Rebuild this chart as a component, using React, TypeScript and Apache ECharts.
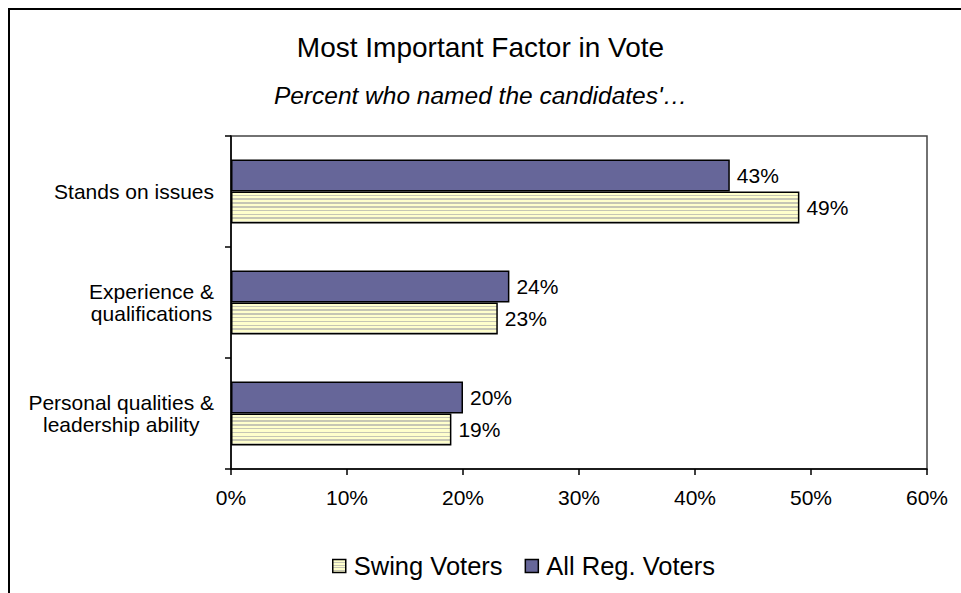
import React, { useEffect, useRef } from "react";
import * as echarts from "echarts";

const categories = ["Stands on issues", "Experience &\nqualifications", "Personal qualities &\nleadership ability"];
const allRegVoters = [43, 24, 20];
const swingVoters = [49, 23, 19];
const xTicks = { min: 0, max: 60, interval: 10 };

const FONT = "'Liberation Sans', Arial, sans-serif";

function stripeFill() {
  const stops: { offset: number; color: string }[] = [];
  const n = 8;
  for (let i = 0; i < n; i++) {
    const a = i / n;
    const b = (i + 0.62) / n;
    const c = (i + 1) / n;
    stops.push({ offset: a, color: "#FFFFCC" });
    stops.push({ offset: b, color: "#FFFFCC" });
    stops.push({ offset: b, color: "#C6C6B4" });
    stops.push({ offset: c, color: "#C6C6B4" });
  }
  return new echarts.graphic.LinearGradient(0, 0, 0, 1, stops);
}

export default function App() {
  const ref = useRef<HTMLDivElement>(null);
  useEffect(() => {
    if (!ref.current) return;
    const chart = echarts.init(ref.current, undefined, { renderer: "svg" });
    chart.setOption({
      animation: false,
      backgroundColor: "#fff",
      textStyle: { fontFamily: FONT },
      title: [
        {
          text: "Most Important Factor in Vote",
          left: "center",
          top: 28,
          textStyle: { fontFamily: FONT, fontSize: 28, fontWeight: "normal", color: "#000" },
        },
        {
          text: "Percent who named the candidates'\u2026",
          left: "center",
          top: 78,
          textStyle: { fontFamily: FONT, fontSize: 24.5, fontStyle: "italic", fontWeight: "normal", color: "#000" },
        },
      ],
      graphic: [
        {
          type: "rect",
          shape: { x: 9, y: 9, width: 1200, height: 800 },
          style: { fill: "none", stroke: "#000", lineWidth: 2 },
          silent: true,
        },
      ],
      legend: {
        left: 327,
        top: 548,
        itemWidth: 13,
        itemHeight: 13,
        itemGap: 22,
        icon: "rect",
        data: ["Swing Voters", "All Reg. Voters"],
        textStyle: { fontFamily: FONT, fontSize: 25.5, color: "#000", padding: [0, 0, 0, 3] },
        itemStyle: { borderColor: "#000", borderWidth: 1.5 },
      },
      grid: {
        left: 231,
        right: 34,
        top: 136,
        bottom: 124,
        show: true,
        borderColor: "#444",
        borderWidth: 1.5,
        backgroundColor: "transparent",
      },
      xAxis: {
        type: "value",
        min: xTicks.min,
        max: xTicks.max,
        interval: xTicks.interval,
        axisLine: { show: true, lineStyle: { color: "#000", width: 1.5 } },
        axisTick: { show: true, length: 6, lineStyle: { color: "#000", width: 1.5 } },
        splitLine: { show: false },
        axisLabel: { formatter: "{value}%", fontFamily: FONT, fontSize: 21, color: "#000", margin: 18 },
      },
      yAxis: {
        type: "category",
        inverse: true,
        data: categories,
        axisLine: { show: true, lineStyle: { color: "#000", width: 1.5 } },
        axisTick: { show: true, length: 6, lineStyle: { color: "#000", width: 1.5 } },
        axisLabel: {
          margin: 17,
          fontFamily: FONT,
          fontSize: 21,
          color: "#000",
          align: "right",
          formatter: (v: string) =>
            v
              .split("\n")
              .map((l) => `{c|${l}}`)
              .join("\n"),
          rich: {
            c: { align: "center", fontFamily: FONT, fontSize: 21, color: "#000", lineHeight: 22 },
          },
        },
      },
      series: [
        {
          name: "All Reg. Voters",
          type: "bar",
          data: allRegVoters,
          barWidth: 32,
          barGap: "0%",
          itemStyle: { color: "#666699", borderColor: "#000", borderWidth: 1.5 },
          label: {
            show: true,
            position: "right",
            distance: 7,
            formatter: "{c}%",
            fontFamily: FONT,
            fontSize: 21,
            color: "#000",
          },
        },
        {
          name: "Swing Voters",
          type: "bar",
          data: swingVoters,
          barWidth: 32,
          barGap: "0%",
          itemStyle: { color: stripeFill(), borderColor: "#000", borderWidth: 1.5 },
          label: {
            show: true,
            position: "right",
            distance: 7,
            formatter: "{c}%",
            fontFamily: FONT,
            fontSize: 21,
            color: "#000",
          },
        },
      ],
    });
    return () => chart.dispose();
  }, []);
  return <div ref={ref} style={{ position: "fixed", left: 0, top: 0, width: 961, height: 593 }} />;
}
